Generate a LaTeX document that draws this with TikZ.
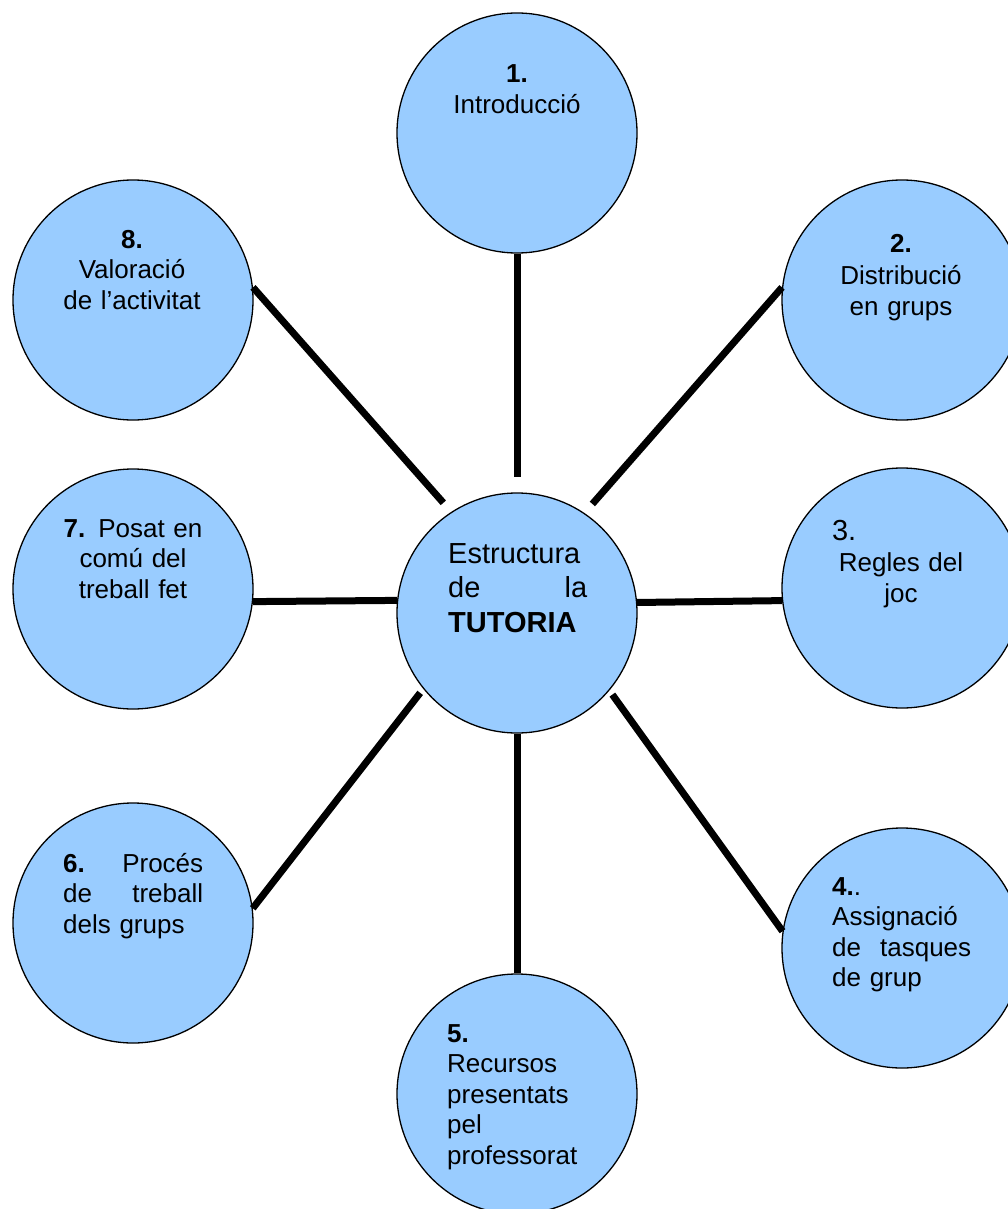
\documentclass[tikz,border=0pt]{standalone}
\usepackage{fontspec}
\setmainfont{Liberation Sans}
\definecolor{bubble}{HTML}{99CCFF}
\begin{document}
\begin{tikzpicture}[x=1pt,y=-1pt,
  bub/.style={circle, draw=black, line width=1.3pt, fill=bubble, minimum size=240pt, inner sep=0pt},
  spoke/.style={line width=7pt, line cap=butt},
  txt/.style={inner sep=0pt, font=\fontsize{26}{30.5}\selectfont},
]
\useasboundingbox (0,0) rectangle (1008,1209);
\clip (0,0) rectangle (1008,1209);
% circles
\node[bub] (nc) at (517,613) {};
\node[bub] (n1) at (517,133) {};
\node[bub] (n2) at (902,300) {};
\node[bub] (n3) at (902,588) {};
\node[bub] (n4) at (902,948) {};
\node[bub] (n5) at (517,1094) {};
\node[bub] (n6) at (133,923) {};
\node[bub] (n7) at (133,589) {};
\node[bub] (n8) at (133,300) {};
% spokes
\draw[spoke, shorten >=15pt] (n1.south) -- (nc.north);
\draw[spoke, shorten >=12pt] (n2.174) -- (nc.56.7);
\draw[spoke] (nc.5.3) -- (n3.186.6);
\draw[spoke, shorten <=5pt] (nc.-40) -- (n4.172.5);
\draw[spoke] (nc.south) -- (n5.north);
\draw[spoke, shorten <=5pt] (nc.219.5) -- (n6.7);
\draw[spoke] (n7.-6.2) -- (nc.174.7);
\draw[spoke, shorten >=12pt] (n8.6) -- (nc.123);
% texts
\node[txt, anchor=base, text width=200pt, align=center] (t1) at (517,83)
  {\textbf{1.}\\Introducció};
\node[txt, anchor=base, text width=200pt, align=center] (t2) at (901,252)
  {\textbf{2.}\\[2pt]Distribució\\en grups};
\node[txt, anchor=base, text width=138pt, align=center] (t3) at (901,540)
  {{\fontsize{29}{30.5}\selectfont 3.}\hfill\null\\[1pt]Regles del\\joc};
\node[txt, anchor=base west, text width=139pt, align=left] (t4) at (832,895)
  {\textbf{4.}.\\Assignació\\de\hfill tasques\\de grup};
\node[txt, anchor=base west, text width=170pt, align=left] (t5) at (447,1042)
  {\textbf{5.}\\Recursos\\presentats\\pel\\professorat};
\node[txt, anchor=base west, text width=140pt, align=left] (t6) at (63,872)
  {\textbf{6.}\hfill Procés\\de\hfill treball\\dels grups};
\node[txt, anchor=base, text width=200pt, align=center] (t7) at (133,537)
  {\textbf{7.} Posat en\\comú del\\treball fet};
\node[txt, anchor=base, text width=200pt, align=center] (t8) at (132,248)
  {\textbf{8.}\\Valoració\\de l’activitat};
\node[txt, font=\fontsize{29}{34.5}\selectfont, anchor=base west, text width=139pt, align=left] (tc) at (448,563)
  {Estructura\\de\hfill la\\\textbf{TUTORIA}};
\end{tikzpicture}
\end{document}
